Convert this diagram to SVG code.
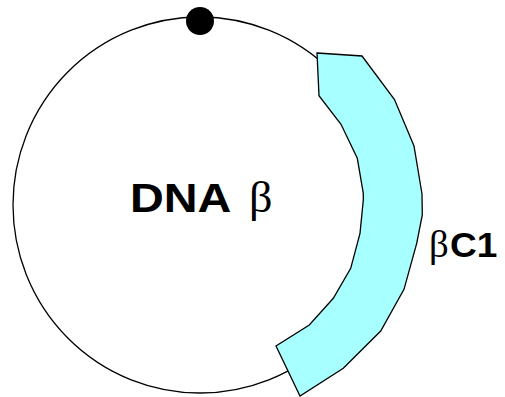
<svg xmlns="http://www.w3.org/2000/svg" width="505" height="397" viewBox="0 0 505 397">
<style>
.ln{fill:none;stroke:#000;stroke-width:1.3}
.lab{font-family:"Liberation Sans",Arial,sans-serif;font-weight:bold;fill:#000}
.gr{font-family:"Liberation Serif","Times New Roman",serif;font-weight:normal;fill:#000}
</style>
<rect width="505" height="397" fill="#fff"/>
<g id="plasmid">
<ellipse class="ln" cx="200" cy="205" rx="187" ry="188"/>
</g>
<g id="origin">
<circle cx="200" cy="21" r="14" fill="#000"/>
</g>
<g id="betaC1">
<polygon points="317,53 362,56 394.5,99.5 414,146 422,194 422.3,215 416.7,243.3 404,289.3 380.7,331 343.3,368.3 300,396 276,346 309.3,325 333.3,298.3 350.7,268.3 360,233.3 363.3,200 363.3,193.3 357.3,158.3 341,124.3 319,95.7" fill="#a8ffff" stroke="#000" stroke-width="1.3" stroke-linejoin="miter"/>
</g>
<g id="labels">
<text x="130" y="212" class="lab" font-size="40" transform="translate(130 0) scale(1.17 1) translate(-130 0)">DNA</text>
<text x="249" y="212" class="gr" font-size="44" transform="translate(249 0) scale(1.05 1) translate(-249 0)">β</text>
<text x="429" y="257" class="gr" font-size="37" transform="translate(429 0) scale(1.05 1) translate(-429 0)">β</text>
<text x="450" y="257" class="lab" font-size="35" transform="translate(450 0) scale(1.06 1) translate(-450 0)">C1</text>
</g>
</svg>
